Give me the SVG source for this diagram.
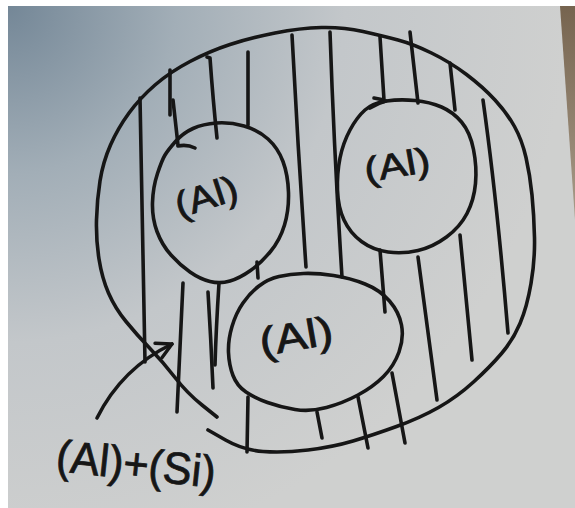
<svg xmlns="http://www.w3.org/2000/svg" width="575" height="508" viewBox="0 0 575 508">
  <defs>
    <radialGradient id="paper" gradientUnits="userSpaceOnUse" cx="8" cy="6" r="560">
      <stop offset="0" stop-color="#748797"/>
      <stop offset="0.3" stop-color="#a2aeb7"/>
      <stop offset="0.6" stop-color="#c3c7ca"/>
      <stop offset="1" stop-color="#cfd0cf"/>
    </radialGradient>
    <linearGradient id="edge" x1="0" y1="0" x2="0" y2="1">
      <stop offset="0" stop-color="#76644f"/>
      <stop offset="1" stop-color="#a89b89"/>
    </linearGradient>
    <marker id="head" viewBox="0 0 20 20" refX="18" refY="10" markerWidth="20" markerHeight="20" markerUnits="userSpaceOnUse" orient="auto">
      <path d="M3,2 L18,10 L3,18" fill="none" stroke="#161616" stroke-width="3.4" stroke-linecap="round" stroke-linejoin="round"/>
    </marker>
    <style>
      .ink { fill: none; stroke: #161616; stroke-width: 3.6; stroke-linecap: round; stroke-linejoin: round; }
      .hand { font-family: "Liberation Sans", "DejaVu Sans", sans-serif; fill: #161616; stroke: #161616; stroke-width: 0.8; }
    </style>
  </defs>

  <!-- sheet of paper -->
  <rect x="0" y="0" width="575" height="508" fill="#ffffff"/>
  <rect x="8" y="6" width="567" height="502" fill="url(#paper)"/>
  <polygon points="560,6 575,6 575,220" fill="url(#edge)"/>

  <!-- outer region: Al + Si, hatched -->
  <g id="outer-region">
    <path class="ink" d="M217,417 L202,405 Q187,393 175,377.5 Q163,362 150,348.5 Q137,335 126,321.5 Q115,308 108.5,293 Q102,278 99,259 Q96,240 96.5,220 Q97,200 100,181 Q103,162 110.5,145 Q118,128 129,113 Q140,98 155,85 Q170,72 190,61.5 Q210,51 230,44.5 Q250,38 275,33 Q300,28 321.5,27.5 Q343,27 363,31.5 Q383,36 398,40 Q413,44 431.5,53 Q450,62 466.5,74.5 Q483,87 495,100 Q507,113 514.5,126.5 Q522,140 526,157.5 Q530,175 532,195 Q534,215 534.5,237.5 Q535,260 531,283.5 Q527,307 520,323.5 Q513,340 501.5,353.5 Q490,367 473.5,382 Q457,397 438.5,407.5 Q420,418 396.5,426.5 Q373,435 353,441 Q333,447 308,450 Q283,453 263,451.5 Q243,450 225.5,440 L208,430"/>
    <g id="hatching" class="ink">
      <path d="M140,98 Q142,230 145,362"/>
      <path d="M170,70 L170,115"/>
      <path d="M173,100 L178,145"/>
      <path d="M207,57 L210,58 Q213,100 217,138"/>
      <path d="M248,52 L248,125"/>
      <path d="M292,35 Q298,150 306,267"/>
      <path d="M330,32 Q334,150 342,277"/>
      <path d="M380,37 L384,100 L374,98"/>
      <path d="M410,32 L418,103"/>
      <path d="M450,63 L455,110"/>
      <path d="M483,100 Q497,200 508,333"/>
      <path d="M460,235 L472,360"/>
      <path d="M418,257 Q428,330 437,400"/>
      <path d="M380,250 L385,312"/>
      <path d="M257,262 L258,278"/>
      <path d="M183,283 Q180,350 177,412"/>
      <path d="M208,292 Q211,340 213,388"/>
      <path d="M219,283 Q216,330 215,365"/>
      <path d="M248,397 L247,452"/>
      <path d="M317,412 L322,438"/>
      <path d="M358,397 L368,448"/>
      <path d="M392,373 L405,443"/>
    </g>
  </g>

  <!-- Al grain, upper left -->
  <g id="grain-1">
    <path class="ink" d="M165,155 Q168,150 175.5,141.5 Q183,133 193,128.5 Q203,124 216.5,123 Q230,122 244,126 Q258,130 268,139 Q278,148 283,161.5 Q288,175 288.5,192.5 Q289,210 284.5,225 Q280,240 270.5,251.5 Q261,263 250.5,270.5 Q240,278 230,281 Q220,284 210,281.5 Q200,279 190,272 Q180,265 171,255 Q162,245 157,231.5 Q152,218 152.5,202.5 Q153,187 157.5,173.5 Q162,160 165,155 Z"/>
    <path class="ink" d="M178,146 Q187,144 195,148"/>
    <text class="hand" x="206" y="209" font-size="36" text-anchor="middle" textLength="64" lengthAdjust="spacingAndGlyphs" transform="rotate(-18 206 196)">(Al)</text>
  </g>

  <!-- Al grain, upper right -->
  <g id="grain-2">
    <path class="ink" d="M350,130 Q357,117 365,110 Q373,103 386.5,101 Q400,99 415,100.5 Q430,102 441.5,107 Q453,112 461.5,122 Q470,132 473.5,149.5 Q477,167 475.5,183.5 Q474,200 467,213.5 Q460,227 446.5,237 Q433,247 418,250.5 Q403,254 388,252 Q373,250 361.5,241.5 Q350,233 344,220 Q338,207 337.5,190 Q337,173 340,158 Q343,143 350,130 Z"/>
    <path class="ink" d="M370,108 Q378,103 386,101"/>
    <text class="hand" x="397" y="177" font-size="35" text-anchor="middle" textLength="66" lengthAdjust="spacingAndGlyphs" transform="rotate(-10 397 165)">(Al)</text>
  </g>

  <!-- Al grain, lower middle -->
  <g id="grain-3">
    <path class="ink" d="M243,303 Q250,293 259,286 Q268,279 279,276.5 Q290,274 303.5,273.5 Q317,273 333.5,275.5 Q350,278 365,284 Q380,290 389.5,301 Q399,312 401.5,325 Q404,338 399,352 Q394,366 383.5,376.5 Q373,387 358,395 Q343,403 326.5,407.5 Q310,412 295,409.5 Q280,407 267.5,402.5 Q255,398 246,392 Q237,386 233,375.5 Q229,365 228.5,352.5 Q228,340 232,326.5 Q236,313 243,303 Z"/>
    <text class="hand" x="296" y="350" font-size="40" text-anchor="middle" textLength="74" lengthAdjust="spacingAndGlyphs" transform="rotate(-10 296 336)">(Al)</text>
  </g>

  <!-- caption for the hatched region -->
  <g id="caption">
    <text class="hand" x="55" y="471" font-size="45" textLength="160" lengthAdjust="spacingAndGlyphs" transform="rotate(6 55 471)">(Al)+(Si)</text>
  </g>

  <g id="connectors">
    <path class="ink" d="M97,418 Q122,368 172,344" marker-end="url(#head)"/>
  </g>
</svg>
